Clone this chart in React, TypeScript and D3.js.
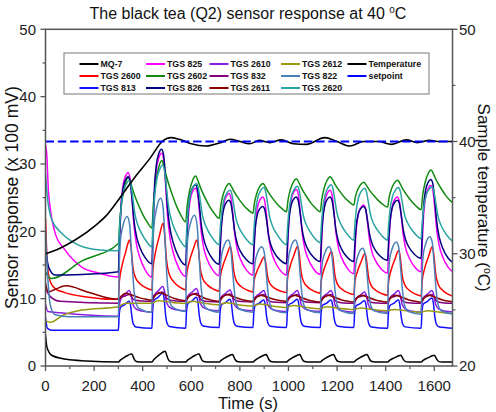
import React from "react";
import * as d3 from "d3";

// injection cycles (s) and end of the record
const cycleStarts = [300, 438, 577, 715, 854, 992, 1131, 1269, 1408, 1546];
const timeEnd = 1675;

// pulse shapes: [seconds after injection, fraction between trough and peak]
const shapeSharp = [[0, 0], [4, 0.3], [10, 0.65], [18, 0.86], [28, 0.96], [40, 1], [48, 0.95], [56, 0.75], [64, 0.5], [74, 0.32], [88, 0.19], [110, 0.07]];
const shapeTeal = [[0, 0], [4, 0.28], [10, 0.58], [20, 0.83], [32, 0.95], [44, 1], [52, 0.93], [60, 0.72], [68, 0.5], [80, 0.33], [96, 0.2], [116, 0.08]];
const shapeSaw = [[0, 0], [6, 0.35], [16, 0.68], [28, 0.9], [41, 1], [50, 0.9], [60, 0.74], [72, 0.58], [84, 0.44], [100, 0.27], [118, 0.12]];
const shapeSquare = [[0, 0], [3, 0.45], [8, 0.75], [18, 0.9], [36, 1], [46, 0.92], [54, 0.62], [62, 0.3], [70, 0.12], [84, 0.04]];
const shapeRamp = [[0, 0], [4, 0.3], [14, 0.55], [30, 0.8], [46, 1], [52, 0.85], [60, 0.45], [70, 0.25], [90, 0.12], [115, 0.04]];
const shapeStep = [[0, 0], [3, 0.5], [9, 0.8], [25, 0.88], [44, 1], [50, 0.85], [56, 0.4], [62, 0.15], [72, 0.05]];
const shapeBump = [[0, 0], [4, 0.45], [12, 0.7], [28, 0.85], [44, 1], [52, 0.8], [60, 0.35], [72, 0.15], [95, 0.05]];
const shapeWave = [[0, 0], [12, 0.55], [30, 1], [55, 0.75], [85, 0.35], [115, 0.1]];
const shapeMQ = [[0, 0], [8, 0.22], [22, 0.52], [38, 0.8], [50, 0.97], [55, 1], [60, 0.7], [66, 0.3], [74, 0.05], [86, 0]];

// warm-up before the first injection [t, x100 mV]
const warmMQ7 = [[0, 4.6], [5, 3.0], [11, 2.3], [25, 1.6], [86, 1.0], [169, 0.75], [300, 0.6]];
const warm2600 = [[0, 22], [8, 15], [20, 12.5], [40, 11.5], [80, 10.9], [160, 10.3], [300, 9.9]];
const warm813 = [[0, 7.2], [8, 5.6], [30, 5.3], [300, 5.3]];
const warm825 = [[0, 32.8], [5, 31.5], [12, 26], [19, 23.6], [40, 19.7], [81, 17.2], [149, 14.7], [218, 13.8], [300, 13.2]];
const warm2602 = [[0, 14.0], [10, 13.3], [25, 13.0], [150, 15.6], [300, 18.2]];
const warm826 = [[0, 18], [6, 16], [15, 14.5], [40, 13.5], [150, 13.6], [300, 14.0]];
const warm2610 = [[0, 9.2], [10, 8.1], [60, 7.9], [300, 7.4]];
const warm832 = [[0, 11.5], [20, 10.3], [60, 9.6], [300, 9.3]];
const warm2611 = [[0, 12.3], [12, 11.0], [40, 11.4], [85, 11.9], [180, 10.9], [300, 9.9]];
const warm2612 = [[0, 6.7], [20, 6.5], [70, 7.5], [150, 8.3], [300, 8.8]];
const warm822 = [[0, 20], [8, 14], [20, 9], [40, 7.6], [100, 7.3], [300, 7.3]];
const warm2620 = [[0, 28.5], [8, 25], [26, 21.7], [67, 19.7], [122, 18.2], [204, 17.3], [300, 17.1]];

// troughs before each injection (+ the following one) and peaks per cycle
const baseMQ7 = [0.6, 0.6, 0.6, 0.6, 0.6, 0.6, 0.6, 0.6, 0.6, 0.6, 0.6];
const peakMQ7 = [1.8, 2.2, 1.8, 1.7, 1.7, 1.7, 1.7, 1.7, 1.6, 1.6];
const base2600 = [9.9, 11.3, 11.3, 11.1, 11.0, 10.9, 10.8, 10.6, 10.5, 10.4, 10.3];
const peak2600 = [18.7, 21.2, 18.7, 17.7, 16.2, 17.8, 17.0, 16.7, 17.2, 17.7];
const base813 = [5.3, 5.6, 5.6, 5.7, 5.7, 5.7, 5.7, 5.7, 5.6, 5.6, 5.6];
const peak813 = [9.6, 10.8, 10.2, 9.9, 9.8, 9.9, 9.8, 9.7, 9.8, 10.1];
const base825 = [13.2, 13.2, 13.3, 13.4, 13.5, 13.5, 13.6, 13.7, 13.8, 14.0, 13.8];
const peak825 = [28.7, 31.6, 26.4, 25.6, 25.1, 26.2, 26.1, 23.9, 25.1, 26.8];
const base2602 = [18.2, 20.5, 21.4, 21.9, 22.7, 22.9, 22.9, 23.9, 23.6, 23.2, 24.0];
const peak2602 = [28.0, 30.5, 28.2, 27.1, 27.1, 27.8, 28.1, 27.3, 27.6, 29.1];
const base826 = [14.0, 15.2, 15.0, 15.1, 15.2, 15.2, 15.5, 15.5, 15.7, 16.0, 15.2];
const peak826 = [28.1, 32.2, 26.9, 24.6, 23.7, 25.1, 25.1, 23.7, 24.6, 27.7];
const base2610 = [7.4, 8.0, 8.2, 8.2, 8.2, 8.1, 8.1, 8.0, 8.0, 8.0, 8.0];
const peak2610 = [11.2, 11.8, 11.5, 11.3, 11.2, 11.2, 11.2, 11.0, 11.2, 11.2];
const base832 = [9.3, 9.6, 9.6, 9.5, 9.5, 9.4, 9.4, 9.3, 9.3, 9.3, 9.3];
const peak832 = [10.6, 11.0, 10.8, 10.7, 10.6, 10.6, 10.6, 10.5, 10.5, 10.6];
const base2611 = [9.9, 9.8, 9.7, 9.6, 9.6, 9.6, 9.5, 9.5, 9.5, 9.5, 9.5];
const peak2611 = [10.8, 10.9, 10.7, 10.6, 10.5, 10.5, 10.5, 10.5, 10.5, 10.5];
const base2612 = [8.8, 9.3, 9.3, 9.1, 8.9, 8.7, 8.5, 8.4, 8.2, 8.0, 7.8];
const peak2612 = [9.3, 9.7, 9.6, 9.4, 9.2, 9.0, 8.8, 8.6, 8.4, 8.2];
const base822 = [7.3, 8.0, 8.1, 8.0, 8.0, 7.9, 7.9, 7.8, 7.8, 7.7, 7.7];
const peak822 = [22.2, 24.9, 22.4, 18.7, 17.7, 18.7, 17.7, 17.5, 18.4, 19.2];
const base2620 = [17.1, 17.7, 17.7, 18.0, 18.0, 18.0, 18.3, 18.7, 18.7, 18.9, 18.3];
const peak2620 = [27.5, 29.8, 27.1, 26.1, 26.5, 26.7, 26.9, 26.4, 26.5, 26.6];

// sample temperature [t, °C] and setpoint
const temperature = [
  [0, 30.0], [60, 30.5], [120, 31.2], [210, 32.6], [250, 33.4], [290, 34.5], [360, 36.6], [430, 38.5],
  [485, 40.1], [515, 40.35], [550, 40.2], [600, 39.8], [660, 39.6], [720, 39.9], [760, 40.2], [800, 40.0],
  [840, 39.8], [880, 40.1], [923, 39.9], [970, 40.15], [1020, 39.8], [1074, 39.75], [1149, 40.35],
  [1200, 40.0], [1252, 39.6], [1310, 40.0], [1370, 40.0], [1424, 39.75], [1486, 40.15], [1530, 39.9],
  [1580, 40.1], [1622, 40.0], [1675, 40.0],
];
const setpoint = 40;

const sensors = [
  { name: "MQ-7", color: "#000000", warm: warmMQ7, base: baseMQ7, peak: peakMQ7, shape: shapeMQ },
  { name: "TGS 2600", color: "#ff0000", warm: warm2600, base: base2600, peak: peak2600, shape: shapeRamp },
  { name: "TGS 813", color: "#1010ff", warm: warm813, base: base813, peak: peak813, shape: shapeStep },
  { name: "TGS 825", color: "#ff00ff", warm: warm825, base: base825, peak: peak825, shape: shapeSharp },
  { name: "TGS 2602", color: "#108a10", warm: warm2602, base: base2602, peak: peak2602, shape: shapeSaw },
  { name: "TGS 826", color: "#000080", warm: warm826, base: base826, peak: peak826, shape: shapeSharp },
  { name: "TGS 2610", color: "#8a1ee6", warm: warm2610, base: base2610, peak: peak2610, shape: shapeBump },
  { name: "TGS 832", color: "#800080", warm: warm832, base: base832, peak: peak832, shape: shapeBump },
  { name: "TGS 2611", color: "#8b0000", warm: warm2611, base: base2611, peak: peak2611, shape: shapeWave },
  { name: "TGS 2612", color: "#9a9a10", warm: warm2612, base: base2612, peak: peak2612, shape: shapeWave },
  { name: "TGS 822", color: "#4a80b8", warm: warm822, base: base822, peak: peak822, shape: shapeSquare },
  { name: "TGS 2620", color: "#2aa3a3", warm: warm2620, base: base2620, peak: peak2620, shape: shapeTeal },
];

const W = 496;
const H = 412;
const plot = { left: 45.5, right: 452.5, top: 29.3, bottom: 366 };
const font = "'Liberation Sans', Arial, Helvetica, sans-serif";

const x = d3.scaleLinear().domain([0, timeEnd]).range([plot.left, plot.right]);
const yL = d3.scaleLinear().domain([0, 50]).range([plot.bottom, plot.top]);
const yR = d3.scaleLinear().domain([20, 50]).range([plot.bottom, plot.top]);

function buildPoints(s: typeof sensors[number]) {
  const pts: number[][] = s.warm.slice(0, -1);
  const peakOff = s.shape.find((p) => p[1] === 1)![0];
  cycleStarts.forEach((start, i) => {
    s.shape.forEach(([off, f]) => {
      const ref = off <= peakOff ? s.base[i] : s.base[i + 1];
      pts.push([start + off, ref + f * (s.peak[i] - ref)]);
    });
  });
  const last = cycleStarts[cycleStarts.length - 1];
  pts.push([last + 138, s.base[s.base.length - 1]]);
  return pts;
}

const lineL = d3
  .line<number[]>()
  .x((d) => x(d[0]))
  .y((d) => yL(d[1]))
  .curve(d3.curveMonotoneX);
const lineR = d3
  .line<number[]>()
  .x((d) => x(d[0]))
  .y((d) => yR(d[1]))
  .curve(d3.curveMonotoneX);

// legend grid, column-major like the plotting order
const legendCols = [100.5, 167, 230.5, 302, 368.5];
const legendRows = [64, 76, 88];
const legendItems = [
  ...sensors.map((s) => ({ name: s.name, color: s.color })),
  { name: "Temperature", color: "#000000" },
  { name: "setpoint", color: "#0000ff" },
];

export default function App() {
  const xMajor = d3.range(0, 1601, 200);
  const xMinor = d3.range(100, 1700, 200);
  const yMajor = d3.range(0, 51, 10);
  const yMinor = d3.range(5, 50, 10);
  const rMajor = d3.range(20, 51, 10);
  const rMinor = d3.range(25, 50, 10);
  const axisColor = "#555";

  return (
    <div style={{ position: "absolute", left: 0, top: 0 }}>
      <svg width={W} height={H} style={{ display: "block", background: "#fff" }} fontFamily={font}>
        <defs>
          <clipPath id="plotClip">
            <rect x={plot.left} y={plot.top} width={plot.right - plot.left} height={plot.bottom - plot.top} />
          </clipPath>
        </defs>

        <text x={248} y={18.5} textAnchor="middle" fontSize={16} fill="#111">
          The black tea (Q2) sensor response at 40{" "}
          <tspan fontSize={10} dy={-6}>o</tspan>
          <tspan dy={6}>C</tspan>
        </text>

        <g clipPath="url(#plotClip)">
          {sensors.map((s) => (
            <path key={s.name} d={lineL(buildPoints(s)) || ""} fill="none" stroke={s.color} strokeWidth={1.5} />
          ))}
          <path d={lineR(temperature) || ""} fill="none" stroke="#000" strokeWidth={1.6} />
          <line
            x1={x(0)}
            x2={x(timeEnd)}
            y1={yR(setpoint)}
            y2={yR(setpoint)}
            stroke="#0000ff"
            strokeWidth={2}
            strokeDasharray="8.5,3.8"
          />
        </g>

        {/* frame */}
        <rect
          x={plot.left}
          y={plot.top}
          width={plot.right - plot.left}
          height={plot.bottom - plot.top}
          fill="none"
          stroke={axisColor}
          strokeWidth={1.5}
        />

        {/* bottom axis */}
        {xMajor.map((v) => (
          <g key={"xm" + v}>
            <line x1={x(v)} x2={x(v)} y1={plot.bottom} y2={plot.bottom + 5} stroke={axisColor} strokeWidth={1.3} />
            <text x={x(v)} y={391} textAnchor="middle" fontSize={15} fill="#222">
              {v}
            </text>
          </g>
        ))}
        {xMinor.map((v) => (
          <line key={"xn" + v} x1={x(v)} x2={x(v)} y1={plot.bottom} y2={plot.bottom + 3} stroke={axisColor} strokeWidth={1.2} />
        ))}
        <text x={248} y={408.5} textAnchor="middle" fontSize={16.5} fill="#111">
          Time (s)
        </text>

        {/* left axis */}
        {yMajor.map((v) => (
          <g key={"ym" + v}>
            <line x1={plot.left - 5} x2={plot.left} y1={yL(v)} y2={yL(v)} stroke={axisColor} strokeWidth={1.3} />
            <text x={36} y={yL(v) + 5.3} textAnchor="end" fontSize={15} fill="#222">
              {v}
            </text>
          </g>
        ))}
        {yMinor.map((v) => (
          <line key={"yn" + v} x1={plot.left - 3} x2={plot.left} y1={yL(v)} y2={yL(v)} stroke={axisColor} strokeWidth={1.2} />
        ))}
        <text
          transform={`translate(18,${(plot.top + plot.bottom) / 2}) rotate(-90)`}
          textAnchor="middle"
          fontSize={17.5}
          fill="#111"
        >
          Sensor response (x 100 mV)
        </text>

        {/* right axis */}
        {rMajor.map((v) => (
          <g key={"rm" + v}>
            <line x1={plot.right} x2={plot.right + 5} y1={yR(v)} y2={yR(v)} stroke={axisColor} strokeWidth={1.3} />
            <text x={459} y={yR(v) + 5.3} textAnchor="start" fontSize={15} fill="#222">
              {v}
            </text>
          </g>
        ))}
        {rMinor.map((v) => (
          <line key={"rn" + v} x1={plot.right} x2={plot.right + 3} y1={yR(v)} y2={yR(v)} stroke={axisColor} strokeWidth={1.2} />
        ))}
        <text
          transform={`translate(477.5,${(plot.top + plot.bottom) / 2}) rotate(90)`}
          textAnchor="middle"
          fontSize={17}
          fill="#111"
        >
          Sample temperature (
          <tspan fontSize={10.5} dy={-6.5}>o</tspan>
          <tspan dy={6.5}>C)</tspan>
        </text>

        {/* legend */}
        <rect x={64} y={53} width={365} height={41} fill="#fff" stroke="#777" strokeWidth={1} />
        {legendItems.map((it, i) => {
          const cx = legendCols[Math.floor(i / 3)];
          const cy = legendRows[i % 3];
          return (
            <g key={it.name}>
              <line x1={cx - 21} x2={cx - 2} y1={cy} y2={cy} stroke={it.color} strokeWidth={2} />
              <text x={cx} y={cy + 3.2} fontSize={8.8} fontWeight="bold" fill="#111">
                {it.name}
              </text>
            </g>
          );
        })}
      </svg>
    </div>
  );
}
